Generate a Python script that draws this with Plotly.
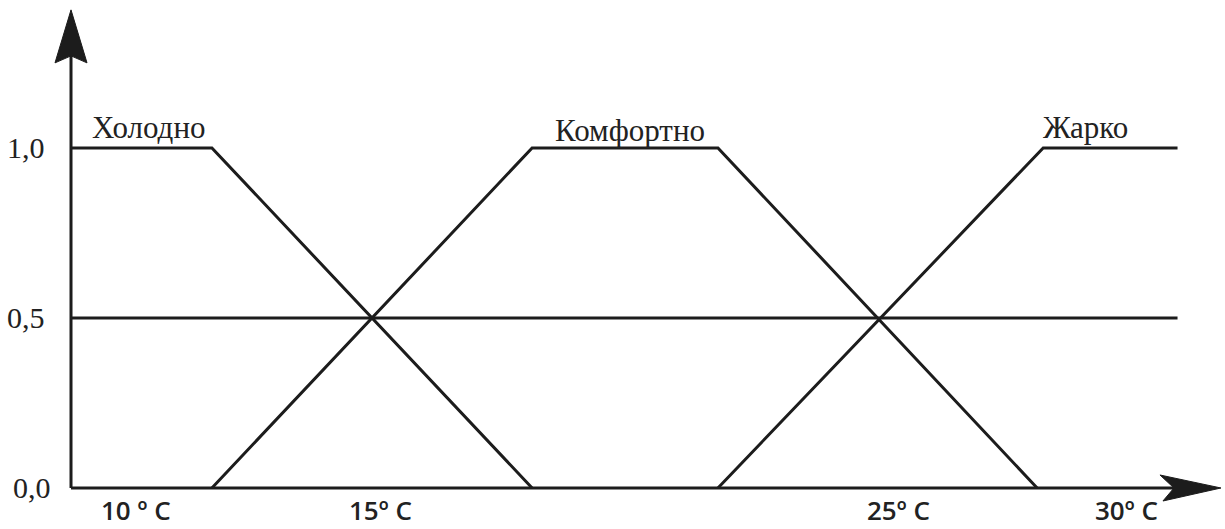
import plotly.graph_objects as go

# membership functions (temperature in deg C, membership degree)
cold_x = [9.04, 11.83, 18.17]
cold_y = [1.0, 1.0, 0.0]
comfort_x = [11.83, 18.17, 21.85, 28.17]
comfort_y = [0.0, 1.0, 1.0, 0.0]
hot_x = [21.85, 28.29, 30.95]
hot_y = [0.0, 1.0, 1.0]
half_x = [9.04, 30.95]
half_y = [0.5, 0.5]

names = ["Холодно", "Комфортно", "Жарко"]
y_ticks = [1.0, 0.5, 0.0]
y_ticktext = ["1,0", "0,5", "0,0"]
x_ticks = [10, 15, 25, 30]
x_ticktext = ["10 º C", "15º C", "25º C", "30º C"]

x_start, x_tip = 9.04, 31.81
y_tip = 1.406
ink = "#1c1c1c"

fig = go.Figure()
for xs, ys in [(cold_x, cold_y), (comfort_x, comfort_y), (hot_x, hot_y), (half_x, half_y)]:
    fig.add_trace(go.Scatter(x=xs, y=ys, mode="lines", line=dict(color=ink, width=3),
                             hoverinfo="skip", showlegend=False, cliponaxis=False))

# axes with arrow heads
fig.add_shape(type="line", x0=x_start, x1=x_tip - 0.8, y0=0, y1=0, line=dict(color=ink, width=3))
fig.add_shape(type="line", x0=x_start, x1=x_start, y0=0, y1=y_tip - 0.12, line=dict(color=ink, width=3))
fig.add_shape(type="path", xsizemode="pixel", ysizemode="pixel", xanchor=x_start, yanchor=y_tip,
              path="M0,0 L-16,-53 L0,-46 L16,-53 Z", fillcolor=ink, line=dict(color=ink, width=1))
fig.add_shape(type="path", xsizemode="pixel", ysizemode="pixel", xanchor=x_tip, yanchor=0,
              path="M0,0 L-61,13 L-47,0 L-58,-13 Z", fillcolor=ink, line=dict(color=ink, width=1))

serif = dict(family="Liberation Serif", size=31, color="#222")
sans = dict(family="Open Sans", size=26, color="#222", weight=600)

# y labels
for v, t in zip(y_ticks, y_ticktext):
    fig.add_annotation(x=x_start, y=v, text=t, showarrow=False, xanchor="right",
                       xshift=-24 if v else -18, font=dict(serif, size=30))

# x labels
for v, t, dx in zip(x_ticks, x_ticktext, [17, 8, 21, -3]):
    fig.add_annotation(x=v, y=0, text=t, showarrow=False, yanchor="middle",
                       xshift=dx, yshift=-22, font=sans)

# curve names
fig.add_annotation(x=x_start, y=1.059, text=names[0], showarrow=False, xanchor="left",
                   xshift=19, font=serif)
fig.add_annotation(x=(comfort_x[1] + comfort_x[2]) / 2, y=1.05, text=names[1], showarrow=False,
                   xshift=5, font=serif)
fig.add_annotation(x=hot_x[1], y=1.059, text=names[2], showarrow=False, xanchor="left",
                   xshift=-2, font=serif)

fig.update_layout(
    width=1225, height=529,
    margin=dict(l=0, r=0, t=0, b=0),
    plot_bgcolor="white", paper_bgcolor="white",
    xaxis=dict(range=[7.634, 31.89], visible=False),
    yaxis=dict(range=[-0.1206, 1.435], visible=False),
)

fig.write_html("out.html", config={"displayModeBar": False},
               post_script="document.body.style.margin='0';document.body.style.overflow='hidden';")
